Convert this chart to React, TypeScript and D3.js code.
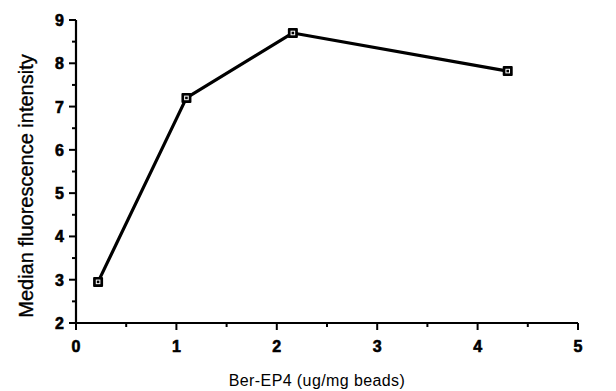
import React from "react";
import * as d3 from "d3";

const doseX = [0.22, 1.1, 2.16, 4.3];
const intensityY = [2.95, 7.2, 8.7, 7.82];
const xTicks = [0, 1, 2, 3, 4, 5];
const yTicks = [2, 3, 4, 5, 6, 7, 8, 9];
const xTitle = "Ber-EP4 (ug/mg beads)";
const yTitle = "Median fluorescence intensity";

export default function App() {
  const W = 616, H = 391;
  const x = d3.scaleLinear().domain([0, 5]).range([76, 578]);
  const y = d3.scaleLinear().domain([2, 9]).range([323, 20]);
  const line = d3.line<number>().x((_, i) => x(doseX[i])).y((d) => y(d));
  const xMinor = d3.range(0.5, 5, 1);
  const yMinor = d3.range(2.5, 9, 1);
  const font = "Liberation Sans";
  const tickStyle = { fontFamily: font, fontWeight: 700, fontSize: 16, stroke: "#000", strokeWidth: 0.6 } as const;
  return (
    <svg width={W} height={H} style={{ position: "absolute", left: 0, top: 0 }}>
      <rect width={W} height={H} fill="#fff" />
      <line x1={x(0)} x2={x(5)} y1={y(2)} y2={y(2)} stroke="#000" strokeWidth={2.2} />
      <line x1={x(0)} x2={x(0)} y1={y(2) + 1} y2={y(9)} stroke="#000" strokeWidth={2.2} />
      {xTicks.map((t) => (
        <g key={"xt" + t}>
          <line x1={x(t)} x2={x(t)} y1={y(2)} y2={y(2) + 7} stroke="#000" strokeWidth={2} />
          <text x={x(t)} y={y(2) + 29} textAnchor="middle" style={tickStyle}>
            {t}
          </text>
        </g>
      ))}
      {xMinor.map((t) => (
        <line key={"xm" + t} x1={x(t)} x2={x(t)} y1={y(2)} y2={y(2) + 4} stroke="#000" strokeWidth={2} />
      ))}
      {yTicks.map((t) => (
        <g key={"yt" + t}>
          <line x1={x(0) - 7} x2={x(0)} y1={y(t)} y2={y(t)} stroke="#000" strokeWidth={2} />
          <text x={x(0) - 12} y={y(t) + 6} textAnchor="end" style={tickStyle}>
            {t}
          </text>
        </g>
      ))}
      {yMinor.map((t) => (
        <line key={"ym" + t} x1={x(0) - 4} x2={x(0)} y1={y(t)} y2={y(t)} stroke="#000" strokeWidth={2} />
      ))}
      <text x={317} y={386} textAnchor="middle" style={{ fontFamily: font, fontSize: 16, letterSpacing: 0.4 }}>
        {xTitle}
      </text>
      <text
        transform={`translate(33,186) rotate(-90)`}
        textAnchor="middle"
        style={{ fontFamily: font, fontSize: 20, stroke: "#000", strokeWidth: 0.35 }}
      >
        {yTitle}
      </text>
      <path d={line(intensityY) || ""} fill="none" stroke="#000" strokeWidth={3.2} strokeLinejoin="round" />
      {intensityY.map((v, i) => (
        <g key={"p" + i}>
          <rect x={x(doseX[i]) - 5} y={y(v) - 5} width={10} height={10} fill="#000" rx={1} />
          <rect x={x(doseX[i]) - 1.8} y={y(v) - 1.8} width={3.6} height={3.6} fill="none" stroke="#fff" strokeWidth={1} />
        </g>
      ))}
    </svg>
  );
}
